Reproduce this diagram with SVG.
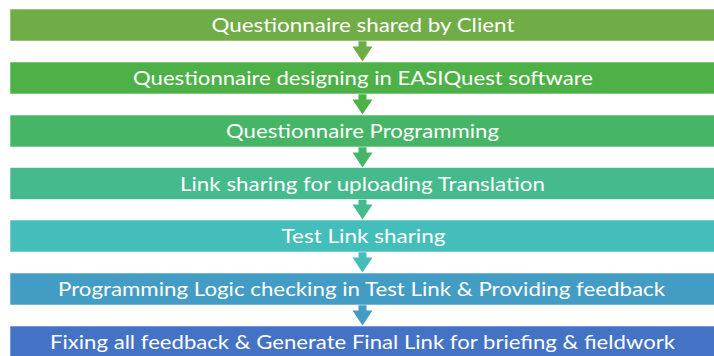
<svg xmlns="http://www.w3.org/2000/svg" width="714" height="356" viewBox="0 0 714 356">
  <style>
    .bar { stroke: #ffffff; stroke-opacity: 0.55; stroke-width: 1; }
    .label { font-family: "Lato", "Open Sans", "Liberation Sans", sans-serif; font-size: 20px; font-weight: 400; fill: #ffffff; text-anchor: middle; }
  </style>
  <defs>
    <!-- down arrow: shaft then head, origin at bar bottom centre -->
    <path id="down" d="M-4,0 H4 V5.5 H10 L0,20.5 L-10,5.5 H-4 Z"/>
  </defs>
  <rect width="714" height="356" fill="#ffffff"/>

  <g id="connectors">
    <use href="#down" x="362.5" y="41" fill="#70AD47"/>
    <use href="#down" x="362.5" y="94" fill="#4EB148"/>
    <use href="#down" x="362.5" y="147" fill="#47B566"/>
    <use href="#down" x="362.5" y="199" fill="#45BA8C"/>
    <use href="#down" x="362.5" y="252" fill="#44BEBA"/>
    <use href="#down" x="362.5" y="305" fill="#439CC3"/>
  </g>

  <g id="step1">
    <rect class="bar" x="10" y="9" width="705" height="32" fill="#70AD47"/>
    <text class="label" x="363" y="32" textLength="303" lengthAdjust="spacingAndGlyphs">Questionnaire shared by Client</text>
  </g>
  <g id="step2">
    <rect class="bar" x="10" y="62" width="705" height="32" fill="#4EB148"/>
    <text class="label" x="363" y="85" textLength="460" lengthAdjust="spacingAndGlyphs">Questionnaire designing in EASIQuest software</text>
  </g>
  <g id="step3">
    <rect class="bar" x="10" y="115" width="705" height="32" fill="#47B566"/>
    <text class="label" x="362.5" y="138" textLength="273" lengthAdjust="spacingAndGlyphs">Questionnaire Programming</text>
  </g>
  <g id="step4">
    <rect class="bar" x="10" y="167.5" width="705" height="32" fill="#45BA8C"/>
    <text class="label" x="362.5" y="190.5" textLength="365" lengthAdjust="spacingAndGlyphs">Link sharing for uploading Translation</text>
  </g>
  <g id="step5">
    <rect class="bar" x="10" y="220" width="705" height="32" fill="#44BEBA"/>
    <text class="label" x="363.5" y="243" textLength="164" lengthAdjust="spacingAndGlyphs">Test Link sharing</text>
  </g>
  <g id="step6">
    <rect class="bar" x="10" y="273" width="705" height="32" fill="#439CC3"/>
    <text class="label" x="361.5" y="296" textLength="607" lengthAdjust="spacingAndGlyphs">Programming Logic checking in Test Link &amp; Providing feedback</text>
  </g>
  <g id="step7">
    <rect class="bar" x="10" y="326" width="705" height="32" fill="#4472C4"/>
    <text class="label" x="362.5" y="349" textLength="625" lengthAdjust="spacingAndGlyphs">Fixing all feedback &amp; Generate Final Link for briefing &amp; fieldwork</text>
  </g>
</svg>
